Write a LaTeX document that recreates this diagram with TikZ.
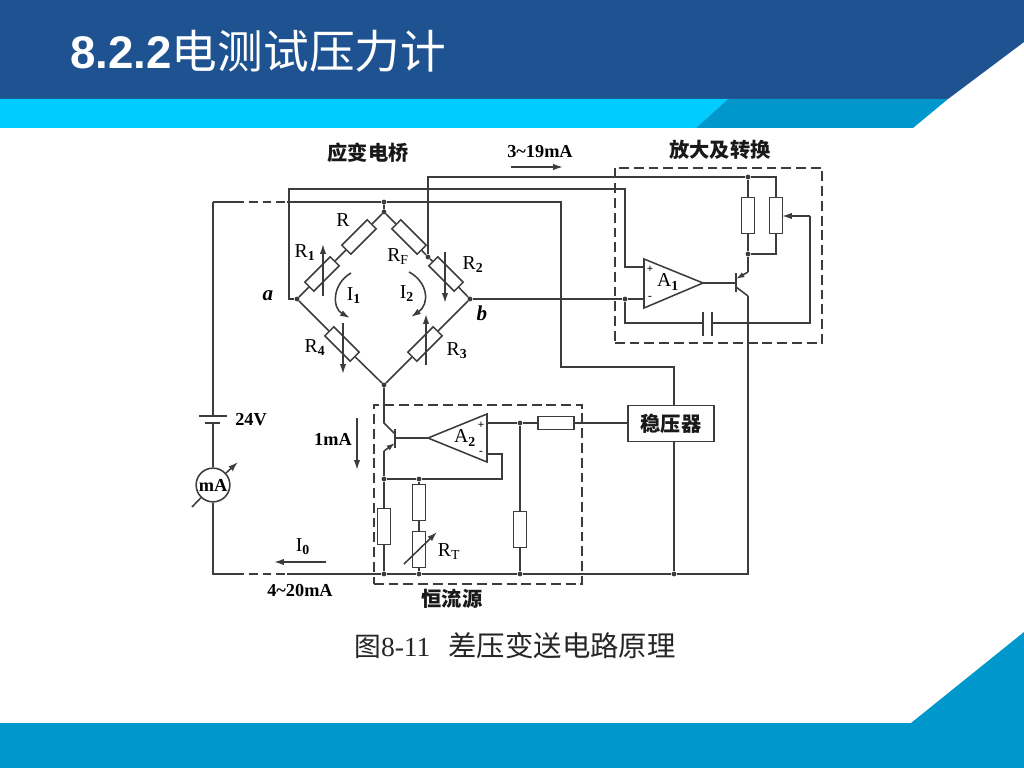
\documentclass[tikz,border=0pt]{standalone}
\usepackage{fontspec}
\setmainfont{Liberation Serif}
\newfontfamily\cjk{Noto Sans CJK SC}
\newfontfamily\headfont{Liberation Sans}
\usetikzlibrary{arrows.meta}
\definecolor{headblue}{HTML}{1F5290}
\definecolor{bandcyan}{HTML}{00CCFF}
\definecolor{bandteal}{HTML}{0098CC}
\definecolor{wirecol}{HTML}{3C3C3C}
\tikzset{
  wire/.style={draw=wirecol,line width=1.1pt},
  dashbox/.style={draw=wirecol,line width=1.1pt,dash pattern=on 7pt off 3.5pt},
  dashwire/.style={draw=wirecol,line width=1.1pt,dash pattern=on 6pt off 3.5pt},
  resbox/.style={draw=wirecol,line width=1.1pt,fill=white,minimum width=25.5pt,minimum height=9pt},
  joint/.style={circle,fill=wirecol,minimum size=3.4pt},
  arr/.style={draw=wirecol,line width=1.1pt,-{Latex[length=7pt,width=4.5pt]}},
  lab/.style={text=black,font=\fontsize{13}{13}\selectfont\bfseries},
  rlab/.style={text=black,font=\fontsize{14}{14}\selectfont},
  cjklab/.style={text=black!90,font=\fontsize{14.4}{14.4}\selectfont\cjk\bfseries}
}
\begin{document}
\begin{tikzpicture}[x=0.025cm,y=-0.025cm]
  \tikzstyle{every node}+=[inner sep=0pt]
  \useasboundingbox (0,0) rectangle (1024,768);
  \fill [white] (0,0) rectangle (1024,768);
  \fill [headblue] (0,0) -- (1024,0) -- (1024,42) -- (948,99) -- (0,99) -- cycle;
  \fill [bandcyan] (0,99) -- (728,99) -- (696,128) -- (0,128) -- cycle;
  \fill [bandteal] (728,99) -- (948,99) -- (913,128) -- (696,128) -- cycle;
  \fill [bandteal] (0,723) -- (911,723) -- (1024,632) -- (1024,768) -- (0,768) -- cycle;
  \node (title) [anchor=west,text=white,font=\fontsize{32.5}{32.5}\selectfont] at (70,51)
    {{\headfont\bfseries 8.2.2}{\cjk 电测试压力计}};
  \node (caption) [anchor=west,text=black!85,font=\fontsize{19.6}{20}\selectfont] at (354,646)
    {{\cjk\fontsize{19}{19}\selectfont 图}8-11\hspace{0.65em}{\cjk\fontsize{20.2}{20}\selectfont 差压变送电路原理}};

  % bridge
  \node (ntop) [joint] at (384,212) {};
  \node (ntopr) [joint] at (384,202) {};
  \node (na) [joint] at (297,299) {};
  \node (nb) [joint] at (470,299) {};
  \node (nbot) [joint] at (384,385) {};
  \node (nf) [joint] at (428,257) {};
  \node (resR) [resbox,rotate=45] at (359,237) {};
  \node (resRa) [resbox,rotate=45] at (322,274) {};
  \node (resRf) [resbox,rotate=-45] at (409,237) {};
  \node (resRb) [resbox,rotate=-45] at (446,274) {};
  \node (resRd) [resbox,rotate=-45] at (342,344) {};
  \node (resRc) [resbox,rotate=45] at (425,344) {};
  \draw [wire] (ntopr) -- (ntop) -- (resR) -- (resRa) -- (na) -- (resRd) -- (nbot);
  \draw [wire] (ntop) -- (resRf) -- (nf) -- (resRb) -- (nb) -- (resRc) -- (nbot);
  \coordinate (ra1) at (323,296);
  \coordinate (ra2) at (323,244);
  \coordinate (rb1) at (445,252);
  \coordinate (rb2) at (445,303);
  \coordinate (rd1) at (343,323);
  \coordinate (rd2) at (343,374);
  \coordinate (rc1) at (426,365);
  \coordinate (rc2) at (426,314);
  \draw [arr] (ra1) -- (ra2);
  \draw [arr] (rb1) -- (rb2);
  \draw [arr] (rd1) -- (rd2);
  \draw [arr] (rc1) -- (rc2);
  \coordinate (ia1) at (351,273);
  \coordinate (ia2) at (350,318);
  \coordinate (ib1) at (409,272);
  \coordinate (ib2) at (411,317);
  \draw [arr] (ia1) .. controls (332,284) and (332,308) .. (ia2);
  \draw [arr] (ib1) .. controls (428,282) and (430,304) .. (ib2);
  \node (lR) [rlab] at (343,220) {R};
  \node (lRa) [rlab] at (305,253) {R$_{\mathbf 1}$};
  \node (lRf) [rlab] at (398,257) {R$_{\mathrm F}$};
  \node (lRb) [rlab] at (473,265) {R$_{\mathbf 2}$};
  \node (lRd) [rlab] at (315,348) {R$_{\mathbf 4}$};
  \node (lRc) [rlab] at (457,351) {R$_{\mathbf 3}$};
  \node (lIa) [rlab] at (354,296) {I$_{\mathbf 1}$};
  \node (lIb) [rlab] at (407,294) {I$_{\mathbf 2}$};
  \node (la) [rlab,font=\fontsize{15}{15}\selectfont\bfseries\itshape] at (268,296) {a};
  \node (lb) [rlab,font=\fontsize{15}{15}\selectfont\bfseries\itshape] at (482,313) {b};
  \node (tbridge) [cjklab] at (368,153) {应变电桥};
  \node (tamp) [cjklab] at (720,150) {放大及转换};
  \node (tsrc) [cjklab] at (452,599) {恒流源};
  \node (lout) [lab] at (540,152) {3\char`\~19mA};
  \coordinate (lo1) at (511,167);
  \coordinate (lo2) at (563,167);
  \draw [arr] (lo1) -- (lo2);

  % amplifier and converter
  \node (boxamp) [dashbox,anchor=north west,minimum width=147.4pt,minimum height=124.7pt] at (614,167) {};
  \coordinate (apos) at (644,259);
  \coordinate (aneg) at (644,308);
  \coordinate (aout) at (703,283);
  \draw [wire] (apos) -- (aneg) -- (aout) -- cycle;
  \node (lap) [font=\fontsize{8}{8}\selectfont\bfseries] at (650,269) {+};
  \node (lam) [font=\fontsize{8}{8}\selectfont\bfseries] at (650,298) {-};
  \node (lA) [rlab] at (668,282) {A$_{\mathbf 1}$};
  \node (nm) [joint] at (625,299) {};
  \node (nrt) [joint] at (748,177) {};
  \node (nrb) [joint] at (748,254) {};
  \node (resK) [resbox,rotate=90] at (748,215.5) {};
  \node (resP) [resbox,rotate=90] at (776,215.5) {};
  \coordinate (ainp) at (644,267);
  \coordinate (ainm) at (644,299);
  \coordinate (railc) at (428,177);
  \coordinate (railr) at (776,177);
  \coordinate (railb) at (776,254);
  \coordinate (raila) at (289,189);
  \coordinate (railp) at (625,189);
  \coordinate (railq) at (625,267);
  \coordinate (wa) at (289,299);
  \draw [wire] (na) -- (wa) -- (raila) -- (railp) -- (railq) -- (ainp);
  \draw [wire] (nf) -- (railc) -- (nrt) -- (railr) -- (resP) -- (railb) -- (nrb) -- (resK) -- (nrt);
  \draw [wire] (nb) -- (nm) -- (ainm);
  % transistor of the amplifier
  \coordinate (ta1) at (736,273);
  \coordinate (ta2) at (736,292);
  \coordinate (tab) at (736,283);
  \coordinate (tac) at (748,272);
  \coordinate (tae) at (748,296);
  \coordinate (tad) at (736,279);
  \coordinate (taf) at (736,287);
  \draw [wire,line width=1.6pt] (ta1) -- (ta2);
  \draw [wire] (aout) -- (tab);
  \draw [wire] (nrb) -- (tac);
  \draw [arr,-{Latex[length=6pt,width=4pt]}] (tac) -- (tad);
  \draw [wire] (taf) -- (tae);
  % capacitor and feedback
  \coordinate (ca1) at (703,312);
  \coordinate (ca2) at (703,336);
  \coordinate (cb1) at (712,312);
  \coordinate (cb2) at (712,336);
  \coordinate (cal) at (703,323);
  \coordinate (cbr) at (712,323);
  \coordinate (cnr) at (625,323);
  \coordinate (fbr) at (810,323);
  \coordinate (fbt) at (810,216);
  \coordinate (fbe) at (782,216);
  \draw [wire,line width=1.6pt] (ca1) -- (ca2);
  \draw [wire,line width=1.6pt] (cb1) -- (cb2);
  \draw [wire] (nm) -- (cnr) -- (cal);
  \draw [wire] (cbr) -- (fbr) -- (fbt);
  \draw [arr] (fbt) -- (fbe);

  % constant current source
  \node (boxsrc) [dashbox,anchor=north west,minimum width=148.1pt,minimum height=127.6pt] at (373,404) {};
  \coordinate (bout) at (428,438);
  \coordinate (bpos) at (487,414);
  \coordinate (bneg) at (487,462);
  \draw [wire] (bout) -- (bpos) -- (bneg) -- cycle;
  \node (lbp) [font=\fontsize{8}{8}\selectfont\bfseries] at (481,425) {+};
  \node (lbm) [font=\fontsize{8}{8}\selectfont\bfseries] at (481,453) {-};
  \node (lB) [rlab] at (465,438) {A$_{\mathbf 2}$};
  \coordinate (tb1) at (395,429);
  \coordinate (tb2) at (395,448);
  \coordinate (tbb) at (395,438);
  \coordinate (tbc) at (384,423);
  \coordinate (tbe) at (384,451);
  \coordinate (tbd) at (395,434);
  \coordinate (tbf) at (395,443);
  \draw [wire,line width=1.6pt] (tb1) -- (tb2);
  \draw [wire] (bout) -- (tbb);
  \draw [wire] (nbot) -- (tbc) -- (tbd);
  \draw [arr,-{Latex[length=6pt,width=4pt]}] (tbe) -- (tbf);
  \node (nla) [joint] at (384,479) {};
  \node (nlb) [joint] at (419,479) {};
  \node (nba) [joint] at (384,574) {};
  \node (nbb) [joint] at (419,574) {};
  \node (nbc) [joint] at (520,574) {};
  \node (nbd) [joint] at (674,574) {};
  \node (npl) [joint] at (520,423) {};
  \node (resL) [resbox,rotate=90] at (384,526.5) {};
  \node (resT) [resbox,rotate=90] at (419,502.5) {};
  \node (resU) [resbox,rotate=90] at (419,549.5) {};
  \node (resV) [resbox,rotate=90] at (520,529.5) {};
  \node (resH) [resbox] at (556,423) {};
  \node (reg) [draw=wirecol,line width=1.1pt,minimum width=61pt,minimum height=25.5pt,cjklab] at (671,423.5) {稳压器};
  \coordinate (binp) at (487,423);
  \coordinate (binm) at (487,454);
  \coordinate (fbb) at (502,454);
  \coordinate (fbc) at (502,479);
  \draw [wire] (tbe) -- (nla) -- (resL) -- (nba);
  \draw [wire] (nla) -- (nlb) -- (fbc) -- (fbb) -- (binm);
  \draw [wire] (nlb) -- (resT) -- (resU) -- (nbb);
  \draw [wire] (binp) -- (npl) -- (resH) -- (resH -| reg.west);
  \draw [wire] (npl) -- (resV) -- (nbc);
  \coordinate (rt1) at (404,564);
  \coordinate (rt2) at (437,532);
  \draw [arr] (rt1) -- (rt2);
  \node (lRt) [rlab] at (449,552) {R$_{\mathrm T}$};

  % supply loop
  \coordinate (bl) at (213,574);
  \coordinate (br) at (748,574);
  \coordinate (tl) at (213,202);
  \coordinate (d1) at (236,202);
  \coordinate (d2) at (287,202);
  \coordinate (d3) at (236,574);
  \coordinate (d4) at (287,574);
  \coordinate (tr) at (561,202);
  \coordinate (sb) at (561,367);
  \coordinate (sc) at (674,367);
  \coordinate (bata) at (199,416);
  \coordinate (batb) at (227,416);
  \coordinate (batc) at (205,423);
  \coordinate (batd) at (220,423);
  \coordinate (batp) at (213,416);
  \coordinate (batn) at (213,423);
  \node (meter) [draw=wirecol,line width=1.1pt,circle,minimum size=24pt,rlab,font=\fontsize{13}{13}\selectfont\bfseries] at (213,485) {mA};
  \draw [wire] (tl) -- (d1);
  \draw [dashwire] (d1) -- (d2);
  \draw [wire] (d2) -- (ntopr) -- (tr) -- (sb) -- (sc) -- (sc |- reg.north);
  \draw [wire] (tl) -- (batp);
  \draw [wire] (batn) -- (meter) -- (bl) -- (d3);
  \draw [dashwire] (d3) -- (d4);
  \draw [wire] (d4) -- (nba) -- (nbb) -- (nbc) -- (nbd) -- (br) -- (tae);
  \draw [wire] (nbd |- reg.south) -- (nbd);
  \draw [wire,line width=1.4pt] (bata) -- (batb);
  \draw [wire,line width=1.8pt] (batc) -- (batd);
  \coordinate (ma1) at (192,507);
  \coordinate (ma2) at (238,462);
  \draw [wire] (ma1) -- (meter);
  \draw [arr] (meter) -- (ma2);
  \node (lV) [lab] at (251,420) {24V};
  \node (lmA) [lab] at (333,439) {1mA};
  \coordinate (ms1) at (357,418);
  \coordinate (ms2) at (357,470);
  \draw [arr] (ms1) -- (ms2);
  \node (lIo) [rlab] at (303,547) {I$_{\mathbf 0}$};
  \coordinate (io1) at (326,562);
  \coordinate (io2) at (274,562);
  \draw [arr] (io1) -- (io2);
  \node (lrange) [lab] at (300,591) {4\char`\~20mA};
\end{tikzpicture}
\end{document}
